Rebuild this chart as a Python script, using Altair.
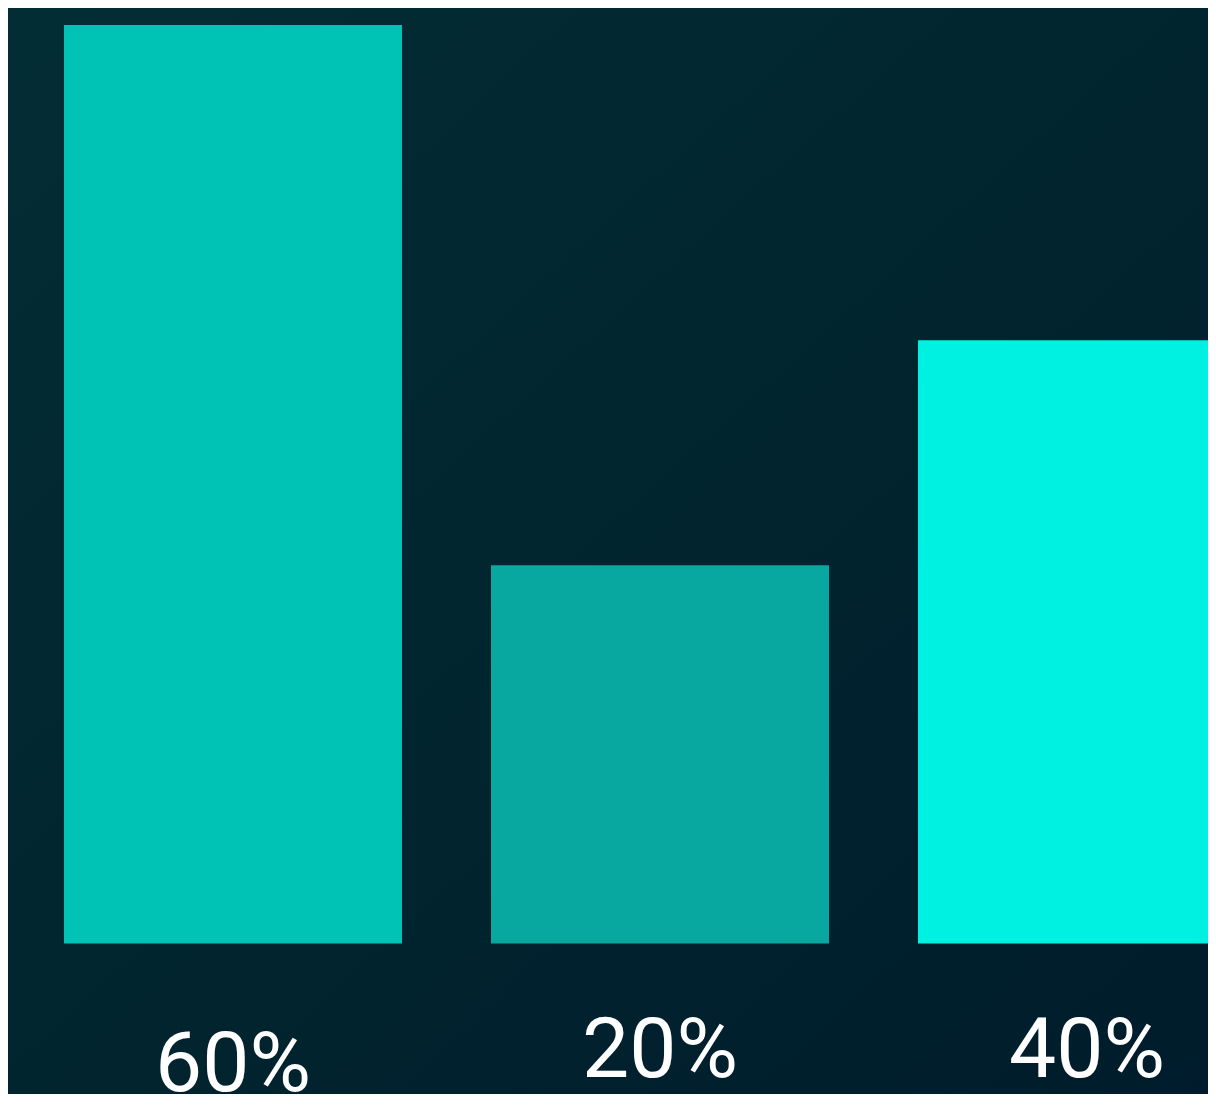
import altair as alt
import pandas as pd

# ---- data ----
categories = ["A", "B", "C"]
values = [60, 24.7, 39.4]          # bar heights (relative units)
labels = ["60%", "20%", "40%"]     # text shown under each bar
label_level = [-9.62, -8.72, -8.72]  # baseline level of each label (same units as values)
bar_colors = ["#00C2B5", "#08A8A0", "#00F0E1"]

df = pd.DataFrame({
    "cat": categories,
    "value": values,
    "label": labels,
    "label_y": label_level,
})

W, H = 1200, 1086

x_scale = alt.Scale(domain=categories, range=[56, 1248], paddingInner=0.2084, paddingOuter=0)
y_scale = alt.Scale(domain=[-9.832, 61.11], nice=False, zero=False)

bg = alt.Chart(alt.Data(values=[{}])).mark_rect(
    color=alt.Gradient(
        gradient="linear",
        stops=[
            alt.GradientStop(color="#032d34", offset=0),
            alt.GradientStop(color="#01252f", offset=0.5),
            alt.GradientStop(color="#001c2c", offset=1),
        ],
        x1=0, y1=0, x2=1, y2=1,
    )
).encode(
    x=alt.value(0), x2=alt.value(W), y=alt.value(0), y2=alt.value(H)
)

bars = alt.Chart(df).mark_bar(clip=True).encode(
    x=alt.X("cat:N", scale=x_scale, axis=None),
    y=alt.Y("value:Q", scale=y_scale, axis=None),
    y2=alt.datum(0),
    color=alt.Color("cat:N", scale=alt.Scale(domain=categories, range=bar_colors), legend=None),
)

text = alt.Chart(df).mark_text(
    font="Roboto", fontSize=84, color="white", baseline="alphabetic", align="center"
).encode(
    x=alt.X("cat:N", scale=x_scale, axis=None),
    y=alt.Y("label_y:Q", scale=y_scale, axis=None),
    text="label:N",
)

chart = alt.layer(bg, bars, text).properties(
    width=W, height=H, padding=0, autosize=alt.AutoSizeParams(type="none"),
    background="#01232f",
).configure_view(stroke=None)

chart.save("out.html", embed_options={"renderer": "svg", "actions": False})
